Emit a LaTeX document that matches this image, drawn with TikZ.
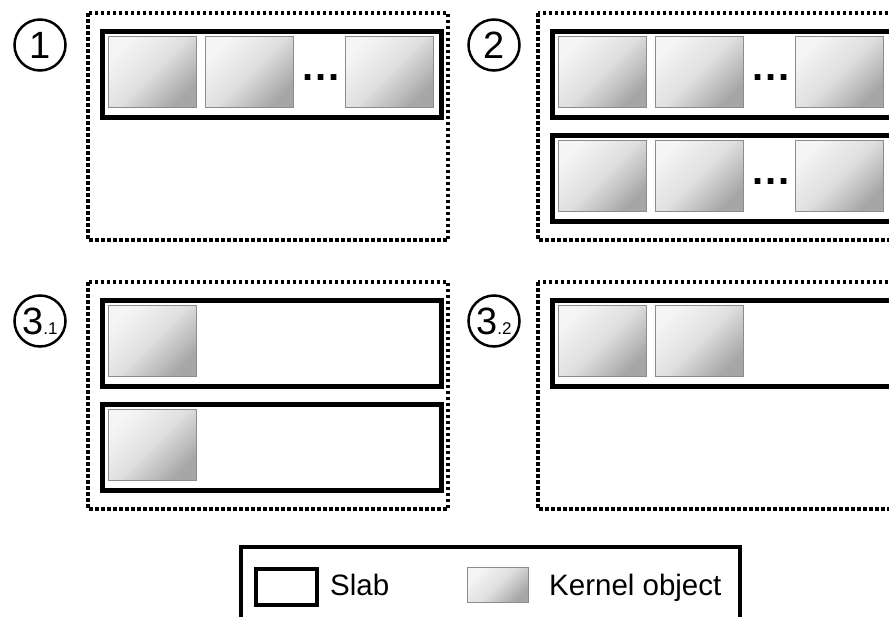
\documentclass[tikz,border=0pt]{standalone}
\usepackage{fontspec}
\setmainfont{Liberation Sans}
\usetikzlibrary{positioning}

\begin{document}
\begin{tikzpicture}[
			x=1pt, y=-1pt,
			panel/.style={
				draw,
				line width=3.5pt,
				dash pattern=on 3.5pt off 2.5pt
			},
			slab/.style={
				draw,
				line width=5pt,
				anchor=north west,
				inner sep=0pt,
				minimum width=339pt,
				minimum height=86pt
			},
			kobj/.style={
				draw=gray!90,
				line width=1pt,
				top color=gray!8,
				bottom color=gray!70,
				middle color=gray!25,
				shading angle=45,
				anchor=north west,
				inner sep=0pt,
				minimum width=88pt,
				minimum height=71pt
			},
			stage/.style={
				draw,
				circle,
				line width=2.5pt,
				minimum size=51pt,
				inner sep=0pt,
				font=\fontsize{38}{38}\selectfont
			},
			dots/.style={
				anchor=base,
				inner sep=0pt,
				font=\fontsize{40}{40}\selectfont\bfseries
			},
			label/.style={
				anchor=base west,
				inner sep=0pt,
				font=\fontsize{29.5}{29.5}\selectfont
			}
			]
			
			\useasboundingbox (0,0) rectangle (889,616);
			\clip (0,0) rectangle (889,616);
			
			%%%%%%%%%%%%%%%%%%%%%%%%%%%%%%%%%%%%%%%%%%%%%%%%%%%%%%%%%%%%
			% Stage 1
			%%%%%%%%%%%%%%%%%%%%%%%%%%%%%%%%%%%%%%%%%%%%%%%%%%%%%%%%%%%%
			
			\node (c1) [stage] at (40,45) {1};
			
			\draw[panel] (88,13) rectangle (448,240);
			
			\node (slab1) [slab] at (100,29) {};
			
			\node (obj1a) [kobj] at (108,36) {};
			\node (obj1b) [kobj] at (205,36) {};
			\node (obj1c) [kobj] at (345,36) {};
			
			\node (dots1) [dots] at (321,80) {.\hspace{2pt}.\hspace{2pt}.};
			
			%%%%%%%%%%%%%%%%%%%%%%%%%%%%%%%%%%%%%%%%%%%%%%%%%%%%%%%%%%%%
			% Stage 2
			%%%%%%%%%%%%%%%%%%%%%%%%%%%%%%%%%%%%%%%%%%%%%%%%%%%%%%%%%%%%
			
			\node (c2) [stage] at (494,45) {2};
			
			\draw[panel] (538,13) rectangle (900,240);
			
			\node (slab2a) [slab] at (550,29) {};
			\node (slab2b) [slab] at (550,133) {};
			
			\node (obj2a) [kobj] at (558,36) {};
			\node (obj2b) [kobj] at (655,36) {};
			\node (obj2c) [kobj] at (795,36) {};
			
			\node (obj2d) [kobj] at (558,140) {};
			\node (obj2e) [kobj] at (655,140) {};
			\node (obj2f) [kobj] at (795,140) {};
			
			\node (dots2a) [dots] at (771,80) {.\hspace{2pt}.\hspace{2pt}.};
			\node (dots2b) [dots] at (771,184) {.\hspace{2pt}.\hspace{2pt}.};
			
			%%%%%%%%%%%%%%%%%%%%%%%%%%%%%%%%%%%%%%%%%%%%%%%%%%%%%%%%%%%%
			% Stage 3.1
			%%%%%%%%%%%%%%%%%%%%%%%%%%%%%%%%%%%%%%%%%%%%%%%%%%%%%%%%%%%%
			
			\node (c31) [stage] at (40,321) {3\fontsize{17}{17}\selectfont.1};
			
			\draw[panel] (88,282) rectangle (448,509);
			
			\node (slab31a) [slab] at (100,298) {};
			\node (slab31b) [slab] at (100,402) {};
			
			\node (obj31a) [kobj] at (108,305) {};
			\node (obj31b) [kobj] at (108,409) {};
			
			%%%%%%%%%%%%%%%%%%%%%%%%%%%%%%%%%%%%%%%%%%%%%%%%%%%%%%%%%%%%
			% Stage 3.2
			%%%%%%%%%%%%%%%%%%%%%%%%%%%%%%%%%%%%%%%%%%%%%%%%%%%%%%%%%%%%
			
			\node (c32) [stage] at (494,321) {3\fontsize{17}{17}\selectfont.2};
			
			\draw[panel] (538,282) rectangle (900,509);
			
			\node (slab32) [slab] at (550,298) {};
			
			\node (obj32a) [kobj] at (558,305) {};
			\node (obj32b) [kobj] at (655,305) {};
			
			%%%%%%%%%%%%%%%%%%%%%%%%%%%%%%%%%%%%%%%%%%%%%%%%%%%%%%%%%%%%
			% Legend
			%%%%%%%%%%%%%%%%%%%%%%%%%%%%%%%%%%%%%%%%%%%%%%%%%%%%%%%%%%%%
			
			\draw[line width=3.5pt] (241,547) rectangle (740,630);
			
			\node (keyslab) [slab, line width=4pt, minimum width=61pt, minimum height=36pt] at (254,567) {};
			\node (keyslabtxt) [label] at (330,595) {Slab};
			
			\node (keyobj) [kobj, minimum width=61pt, minimum height=35pt] at (467,567) {};
			\node (keyobjtxt) [label] at (549,595) {Kernel object};
			
		\end{tikzpicture}
\end{document}
